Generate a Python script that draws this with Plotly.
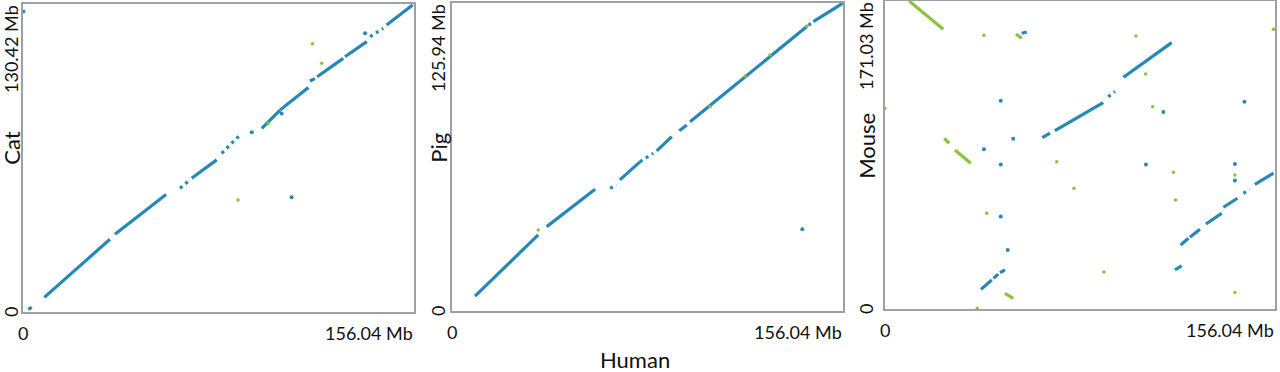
import plotly.graph_objects as go

# ---------------- data (Mb) ----------------
HUMAN_LEN = 156.04
SPECIES = ["Cat", "Pig", "Mouse"]
SPECIES_LEN = [130.42, 125.94, 171.03]
X_TICK_LABELS = ["0", "156.04 Mb"]
Y_TICK_LABELS = ["130.42 Mb", "125.94 Mb", "171.03 Mb"]
X_TITLE = "Human"

# Cat: forward (blue) blocks  human start/end, cat start/end
cat_fwd_h0 = [2.1, 8.5, 36.7, 67.3, 95.3, 102.6, 114.5, 117.4, 128.5, 145.1]
cat_fwd_h1 = [3.5, 34.7, 57.1, 77.3, 102.6, 113.9, 116.5, 127.8, 137.2, 155.5]
cat_fwd_s0 = [1.1, 6.2, 32.9, 56.6, 77.8, 85.5, 97.8, 99.6, 108.1, 121.5]
cat_fwd_s1 = [2.0, 30.8, 49.8, 64.4, 85.5, 95.1, 98.8, 107.4, 114.5, 130.0]
# Cat: fragmented forward blocks
cat_frag_h0 = [62.7, 79.3, 138.5]
cat_frag_h1 = [65.8, 86.6, 143.8]
cat_frag_s0 = [52.4, 67.2, 116.6]
cat_frag_s1 = [55.2, 75.0, 120.1]
# Cat: single hits
cat_fdot_h = [0.2, 91.3, 136.5, 107.2, 103.2]
cat_fdot_s = [127.2, 76.1, 118.0, 48.6, 84.1]
cat_rdot_h = [115.5, 119.2, 85.8, 97.9]
cat_rdot_s = [113.6, 105.3, 47.4, 79.9]

# Pig
pig_fwd_h0 = [9.2, 37.8, 67.0, 81.7, 90.7, 95.0, 144.2]
pig_fwd_h1 = [34.4, 57.1, 75.0, 87.7, 93.7, 141.6, 156.0]
pig_fwd_s0 = [6.1, 34.5, 53.6, 65.5, 73.7, 77.4, 118.3]
pig_fwd_s1 = [31.1, 49.8, 61.0, 71.3, 76.1, 116.3, 125.9]
pig_frag_h0 = [63.1, 75.0, 142.2]
pig_frag_h1 = [65.7, 80.3, 143.6]
pig_frag_s0 = [50.2, 61.0, 116.9]
pig_frag_s1 = [51.5, 64.5, 117.6]
pig_fdot_h = [139.8]
pig_fdot_s = [33.4]
pig_rdot_h = [34.4, 116.9, 103.0, 126.9, 141.6]
pig_rdot_s = [33.1, 96.1, 83.5, 104.7, 116.5]

# Mouse
mouse_fwd_h0 = [38.4, 43.4, 46.0, 54.7, 62.9, 68.0, 95.4, 116.0, 118.3, 122.0, 128.4, 135.4, 148.0]
mouse_fwd_h1 = [42.7, 45.3, 48.0, 56.7, 66.0, 87.3, 114.7, 118.7, 121.4, 126.0, 134.7, 141.0, 155.4]
mouse_fwd_s0 = [10.9, 17.0, 20.2, 153.1, 95.1, 99.0, 128.7, 21.7, 35.5, 39.8, 47.2, 56.5, 69.2]
mouse_fwd_s1 = [16.1, 19.4, 21.7, 153.8, 97.6, 114.6, 147.9, 23.9, 39.3, 44.3, 53.1, 61.5, 75.4]
mouse_frag_h0 = [89.3, 143.4]
mouse_frag_h1 = [92.0, 145.8]
mouse_frag_s0 = [117.9, 64.2]
mouse_frag_s1 = [120.7, 66.5]
mouse_rev_h0 = [9.7, 52.4, 23.7, 28.0, 48.0]
mouse_rev_h1 = [23.3, 54.7, 25.7, 34.3, 51.3]
mouse_rev_s0 = [171.0, 152.7, 94.8, 88.3, 8.7]
mouse_rev_s1 = [155.3, 150.3, 92.0, 80.9, 5.9]
mouse_fdot_h = [46.3, 51.3, 39.6, 46.3, 104.4, 111.4, 143.8, 140.0, 140.0, 46.3, 49.1]
mouse_fdot_s = [115.7, 94.6, 88.7, 80.3, 80.3, 109.4, 115.1, 80.5, 71.3, 51.3, 32.8]
mouse_rdot_h = [39.6, 100.4, 104.3, 107.1, 68.7, 75.6, 115.4, 116.3, 140.0, 140.0, 87.6, 40.7, 155.4, 36.9, 0.0]
mouse_rdot_s = [152.0, 151.6, 130.5, 112.3, 81.8, 67.0, 75.9, 60.5, 74.4, 9.1, 20.5, 53.1, 155.3, 0.4, 111.4]

# ---------------- style ----------------
BLUE = "#2688b9"
GREEN = "#8dc23f"
FRAME = "#a0a0a0"
FONT = "Lato"

W, H = 1280, 372
# panel pixel boxes: left, right, top, bottom
BOXES = [(23, 414, 4, 312), (452, 843, 3, 311), (885, 1275, 1, 309)]
YLAB_SHIFT = [-12, -14, -19]


def segs(h0, h1, s0, s1):
    xs, ys = [], []
    for a, b, c, d in zip(h0, h1, s0, s1):
        xs += [a, b, None]
        ys += [c, d, None]
    return xs, ys


panels = [
    dict(solid=[(cat_fwd_h0, cat_fwd_h1, cat_fwd_s0, cat_fwd_s1, BLUE)],
         frag=[(cat_frag_h0, cat_frag_h1, cat_frag_s0, cat_frag_s1, BLUE)],
         dots=[(cat_fdot_h, cat_fdot_s, BLUE, 4), (cat_rdot_h, cat_rdot_s, GREEN, 3.5)]),
    dict(solid=[(pig_fwd_h0, pig_fwd_h1, pig_fwd_s0, pig_fwd_s1, BLUE)],
         frag=[(pig_frag_h0, pig_frag_h1, pig_frag_s0, pig_frag_s1, BLUE)],
         dots=[(pig_fdot_h, pig_fdot_s, BLUE, 4), (pig_rdot_h, pig_rdot_s, GREEN, 3.5)]),
    dict(solid=[(mouse_fwd_h0, mouse_fwd_h1, mouse_fwd_s0, mouse_fwd_s1, BLUE),
                (mouse_rev_h0, mouse_rev_h1, mouse_rev_s0, mouse_rev_s1, GREEN)],
         frag=[(mouse_frag_h0, mouse_frag_h1, mouse_frag_s0, mouse_frag_s1, BLUE)],
         dots=[(mouse_fdot_h, mouse_fdot_s, BLUE, 4), (mouse_rdot_h, mouse_rdot_s, GREEN, 3.5)]),
]

fig = go.Figure()
annotations = []
for i, p in enumerate(panels):
    n = "" if i == 0 else str(i + 1)
    xa, ya = "x" + n, "y" + n
    for h0, h1, s0, s1, col in p["solid"]:
        xs, ys = segs(h0, h1, s0, s1)
        fig.add_trace(go.Scatter(x=xs, y=ys, mode="lines", xaxis=xa, yaxis=ya,
                                 line=dict(color=col, width=3.2), hoverinfo="skip"))
    for h0, h1, s0, s1, col in p["frag"]:
        xs, ys = segs(h0, h1, s0, s1)
        fig.add_trace(go.Scatter(x=xs, y=ys, mode="lines", xaxis=xa, yaxis=ya,
                                 line=dict(color=col, width=3.2, dash="3px,4px"), hoverinfo="skip"))
    for hx, sy, col, sz in p["dots"]:
        fig.add_trace(go.Scatter(x=hx, y=sy, mode="markers", xaxis=xa, yaxis=ya,
                                 marker=dict(color=col, size=sz, line=dict(width=0)),
                                 hoverinfo="skip"))

    l, r, t, b = BOXES[i]
    axis_common = dict(showgrid=False, zeroline=False, showticklabels=False, ticks="",
                       showline=True, mirror=True, linecolor=FRAME, linewidth=1.5)
    fig.update_layout(**{
        ("xaxis" + n): dict(domain=[l / W, r / W], range=[0, HUMAN_LEN], anchor=ya, **axis_common),
        ("yaxis" + n): dict(domain=[1 - b / H, 1 - t / H], range=[0, SPECIES_LEN[i]], anchor=xa, **axis_common),
    })
    xd, yd = xa + " domain", ya + " domain"
    tick_font = dict(family=FONT, size=18, color="#111")
    annotations += [
        dict(text=X_TICK_LABELS[0], xref=xd, yref=yd, x=0, y=0, xanchor="center", yanchor="middle",
             yshift=-21, showarrow=False, font=tick_font, borderpad=0),
        dict(text=X_TICK_LABELS[1], xref=xd, yref=yd, x=1, y=0, xanchor="right", yanchor="middle",
             yshift=-21, showarrow=False, font=tick_font, borderpad=0),
        dict(text="0", xref=xd, yref=yd, x=0, y=0, xanchor="center", yanchor="middle",
             xshift=YLAB_SHIFT[i], textangle=-90, showarrow=False, font=tick_font, borderpad=0),
        dict(text=Y_TICK_LABELS[i], xref=xd, yref=yd, x=0, y=1, xanchor="center", yanchor="top",
             xshift=YLAB_SHIFT[i], textangle=-90, showarrow=False, font=tick_font, borderpad=0),
        dict(text=SPECIES[i], xref=xd, yref=yd, x=0, y=0.53, xanchor="center", yanchor="middle",
             xshift=YLAB_SHIFT[i] + 1, textangle=-90, showarrow=False, borderpad=0,
             font=dict(family=FONT, size=22, color="#111")),
    ]

annotations.append(dict(text=X_TITLE, xref="paper", yref="paper", x=635 / W, y=1 - 359 / H,
                        xanchor="center", yanchor="middle", showarrow=False, borderpad=0,
                        font=dict(family=FONT, size=22, color="#111")))

fig.update_layout(width=W, height=H, margin=dict(l=0, r=0, t=0, b=0),
                  paper_bgcolor="white", plot_bgcolor="white", showlegend=False,
                  annotations=annotations)

fig.write_html("out.html", config={"displayModeBar": False},
               post_script="document.body.style.margin='0';document.body.style.overflow='hidden';")
